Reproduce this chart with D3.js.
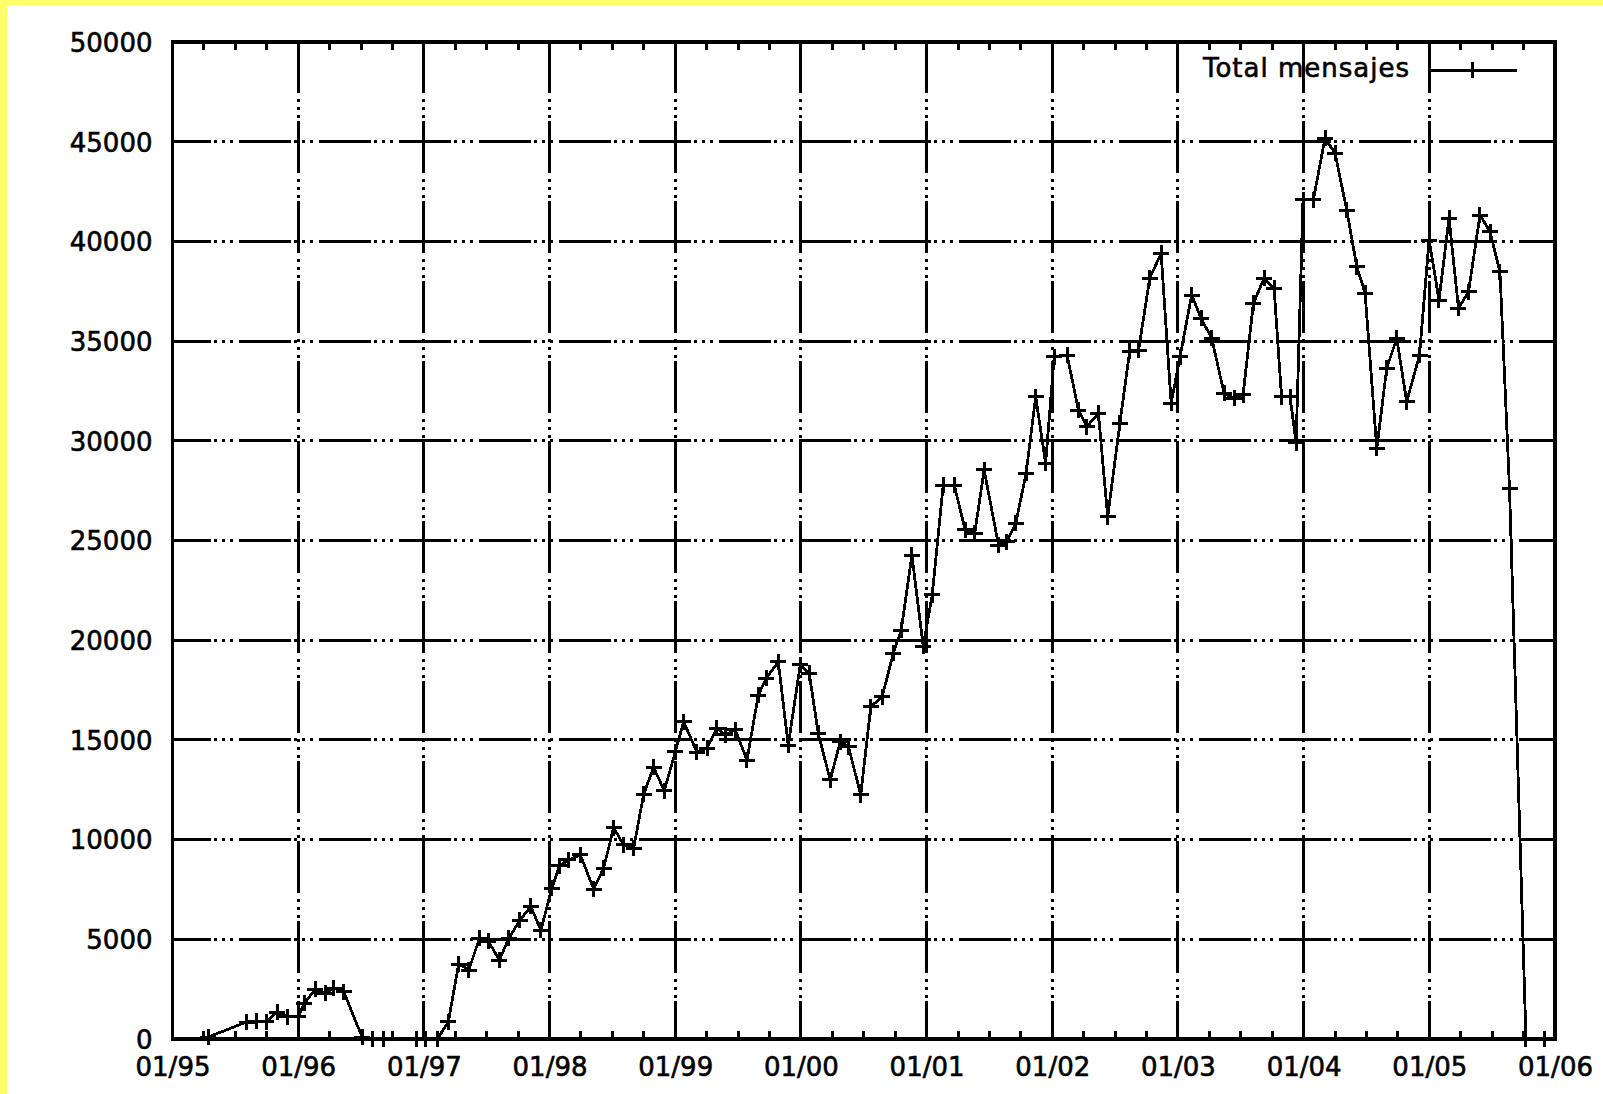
<!DOCTYPE html>
<html><head><meta charset="utf-8">
<script src="https://cdn.jsdelivr.net/npm/d3@7"></script>
<style>
html,body{margin:0;padding:0;background:#fff;}
svg{display:block;}
text{font-family:"DejaVu Sans",sans-serif;font-size:26px;fill:#000;stroke:#000;stroke-width:0.6px;}
</style></head><body>
<svg id="chart" width="1603" height="1094"></svg>
<script>
// ---- data (decimal year of each sample, message count) ----
const sampleYears = [1995.284,1995.589,1995.668,1995.745,1995.833,1995.912,1996.000,1996.050,1996.137,1996.217,
1996.283,1996.362,1996.509,1996.588,1996.678,1996.941,1997.016,1997.108,1997.195,1997.277,
1997.358,1997.442,1997.513,1997.601,1997.676,1997.764,1997.851,1997.931,1998.018,1998.078,
1998.150,1998.245,1998.351,1998.430,1998.510,1998.589,1998.669,1998.749,1998.828,1998.913,
1999.001,1999.067,1999.173,1999.253,1999.332,1999.398,1999.478,1999.571,1999.661,1999.724,
1999.820,1999.899,1999.995,2000.066,2000.138,2000.233,2000.313,2000.379,2000.476,2000.556,
2000.647,2000.735,2000.798,2000.883,2000.973,2001.045,2001.132,2001.220,2001.307,2001.383,
2001.458,2001.572,2001.639,2001.709,2001.792,2001.868,2001.947,2002.015,2002.118,2002.208,
2002.275,2002.367,2002.441,2002.538,2002.616,2002.687,2002.775,2002.866,2002.946,2003.017,
2003.109,2003.184,2003.269,2003.367,2003.447,2003.518,2003.600,2003.685,2003.765,2003.824,
2003.892,2003.940,2003.995,2004.077,2004.170,2004.250,2004.343,2004.423,2004.489,2004.582,
2004.661,2004.741,2004.820,2004.922,2004.998,2005.077,2005.157,2005.232,2005.312,2005.403,
2005.483,2005.562,2005.638,2005.769,2005.920];
const totalMensajes = [100,850,900,870,1350,1120,1120,1790,2500,2290,
2540,2370,90,0,0,0,0,0,870,3760,
3460,5050,4900,3960,5050,5950,6650,5450,7560,8680,
8980,9230,7520,8560,10600,9730,9560,12280,13620,12450,
14410,15910,14370,14580,15580,15250,15500,13990,17250,18090,
18920,14740,18760,18340,15330,12990,14910,14660,12240,16660,
17170,19340,20510,24270,19700,22270,27780,27780,25530,25360,
28540,24770,24940,25860,28370,32210,28870,34220,34300,31540,
30710,31380,26190,30880,34500,34550,38150,39400,31880,34220,
37310,36140,35140,32380,32130,32300,36890,38150,37650,32210,
32210,29900,42080,42080,45170,44420,41570,38730,37400,29620,
33630,35140,31960,34300,40070,37060,41160,36640,37480,41320,
40490,38480,27620,0,0];
const yTickValues = [0,5000,10000,15000,20000,25000,30000,35000,40000,45000,50000];
const xTickYears = [1995,1996,1997,1998,1999,2000,2001,2002,2003,2004,2005,2006];
const xTickLabels = ["01/95","01/96","01/97","01/98","01/99","01/00","01/01","01/02","01/03","01/04","01/05","01/06"];
const seriesName = "Total mensajes";

// ---- layout ----
const W = 1603, H = 1094;
const L = 172.5, R = 1555, T = 42, B = 1039;
const svg = d3.select("#chart");

// yellow frame
svg.append("rect").attr("x",0).attr("y",0).attr("width",W).attr("height",H).attr("fill","#ffff66");
svg.append("rect").attr("x",7).attr("y",5).attr("width",W-7).attr("height",H-5).attr("fill","#ffffff");

const x = d3.scaleLinear().domain([1995,2006]).range([L,R]);
const y = d3.scaleLinear().domain([0,50000]).range([B,T]);

const dash = "52,3,3,5,3,5,3,6";
const g = svg.append("g").attr("shape-rendering","crispEdges");

// grid lines (start at left / bottom edge)
g.selectAll("path.hgrid").data(yTickValues.filter(v=>v>0 && v<50000)).enter().append("path")
  .attr("class","hgrid")
  .attr("d", v => `M${L},${y(v)}H${R}`)
  .attr("stroke","#000").attr("stroke-width",3).attr("fill","none")
  .attr("stroke-dasharray",dash).attr("stroke-dashoffset",14);
g.selectAll("path.vgrid").data(xTickYears.filter(v=>v>1995 && v<2006)).enter().append("path")
  .attr("class","vgrid")
  .attr("d", v => `M${x(v)},${B}V${T}`)
  .attr("stroke","#000").attr("stroke-width",3).attr("fill","none")
  .attr("stroke-dasharray",dash).attr("stroke-dashoffset",14);

// minor ticks (quarters), inward, bottom & top
const minor = d3.range(1995, 2006.001, 0.25).filter(v => Math.abs(v - Math.round(v)) > 0.01);
g.selectAll("path.minb").data(minor).enter().append("path")
  .attr("d", v => `M${x(v)},${B}V${B-8}M${x(v)},${T}V${T+8}`)
  .attr("stroke","#000").attr("stroke-width",3);

// axes via d3
const xAxis = d3.axisBottom(x).tickValues(xTickYears).tickFormat((d,i)=>xTickLabels[i]).tickSize(0).tickPadding(12);
const xa = svg.append("g").attr("transform",`translate(0,${B})`).call(xAxis);
xa.select(".domain").remove();
xa.selectAll("text").attr("font-family","DejaVu Sans").attr("font-size",26).attr("dy","0.95em");

const yAxis = d3.axisLeft(y).tickValues(yTickValues).tickFormat(d3.format("d")).tickSize(0).tickPadding(20);
const ya = svg.append("g").attr("transform",`translate(${L},0)`).call(yAxis);
ya.select(".domain").remove();
ya.selectAll("text").attr("font-family","DejaVu Sans").attr("font-size",26).attr("dy","0.36em");

// major ticks inward
g.selectAll("path.majx").data(xTickYears).enter().append("path")
  .attr("d", v => `M${x(v)},${B}V${B-15}M${x(v)},${T}V${T+15}`)
  .attr("stroke","#000").attr("stroke-width",3);
g.selectAll("path.majy").data(yTickValues).enter().append("path")
  .attr("d", v => `M${L},${y(v)}H${L+15}M${R},${y(v)}H${R-15}`)
  .attr("stroke","#000").attr("stroke-width",3);

// border
g.append("rect").attr("x",L).attr("y",T).attr("width",R-L).attr("height",B-T)
  .attr("fill","none").attr("stroke","#000").attr("stroke-width",3.5);

// data
const pts = sampleYears.map((d,i)=>({t:d, v:totalMensajes[i]}));
const line = d3.line().x(d=>x(d.t)).y(d=>y(d.v));
svg.append("path").datum(pts).attr("d",line).attr("fill","none").attr("stroke","#000")
  .attr("stroke-width",2.8).attr("stroke-linejoin","miter").attr("shape-rendering","crispEdges");
const plus = "M-8,0H8M0,-8V8";
svg.selectAll("path.pt").data(pts).enter().append("path")
  .attr("transform", d=>`translate(${x(d.t)},${y(d.v)})`)
  .attr("d",plus).attr("stroke","#000").attr("stroke-width",3).attr("fill","none").attr("shape-rendering","crispEdges");

// legend
const leg = svg.append("g");
leg.append("text").attr("x",1410).attr("y",77).attr("text-anchor","end").attr("letter-spacing","1px").text(seriesName);
leg.append("path").attr("d","M1428,70H1517").attr("stroke","#000").attr("stroke-width",3).attr("shape-rendering","crispEdges");
leg.append("path").attr("transform","translate(1472,70)").attr("d",plus).attr("stroke","#000").attr("stroke-width",3).attr("shape-rendering","crispEdges");
</script>
</body></html>
